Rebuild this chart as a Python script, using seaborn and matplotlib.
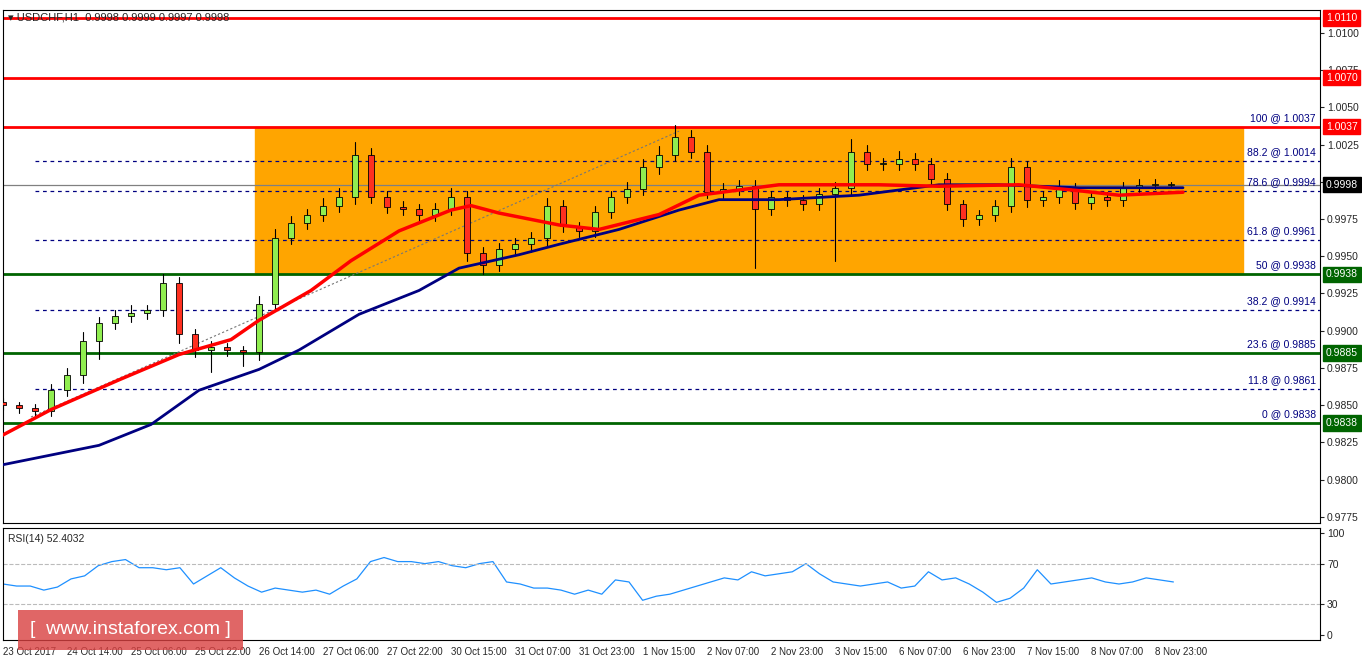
import matplotlib
matplotlib.use("Agg")
import matplotlib.pyplot as plt
import seaborn as sns
import numpy as np
from matplotlib.patches import Rectangle, FancyBboxPatch

sns.set_style("white")
plt.rcParams['font.family'] = ['Liberation Sans', 'DejaVu Sans']

closes = [0.9850,0.9848,0.9846,0.9860,0.9870,0.9893,0.9905,0.9910,0.9912,0.9914,0.9932,0.9898,0.9887,0.9889,0.9887,0.9886,
          0.9918,0.9962,0.9972,0.9978,0.9984,0.9990,1.0018,0.9990,0.9983,0.9982,0.9978,0.9982,0.9990,0.9952,0.9944,0.9955,
          0.9958,0.9962,0.9984,0.9970,0.9967,0.9980,0.9990,0.9995,1.0010,1.0018,1.0030,1.0020,0.9993,0.9995,0.9997,0.9982,
          0.9990,0.9988,0.9985,0.9992,0.9996,1.0020,1.0012,1.0012,1.0015,1.0012,1.0002,0.9985,0.9975,0.9978,0.9984,1.0010,
          0.9988,0.9990,0.9996,0.9986,0.9990,0.9988,0.9996,0.9998,0.9998,0.9998]
wick_up = [3,2,3,4,5,6,4,4,5,3,6,4,3,4,3,3,5,6,5,4,5,6,9,5,4,4,3,4,6,4,4,4,4,4,5,4,3,4,4,5,5,6,8,5,5,4,4,4,
           4,3,3,4,4,9,5,4,6,4,4,4,3,3,4,6,4,4,5,3,3,3,4,4,4,2]
wick_dn = [3,3,4,3,4,5,12,4,4,4,4,6,5,15,4,10,6,4,4,4,4,4,5,4,4,4,4,4,4,5,6,4,4,5,5,4,4,4,4,4,4,5,4,4,4,4,4,40,
           4,4,4,4,45,5,4,4,4,4,4,4,5,4,4,4,5,4,4,4,4,4,4,3,3,2]
bar_hours = 4
fast_ma_x = [0,12,29,44,57,64,77,87,99,112,117,124,139,149,164,174,194,219,234,254,269,279,295]
fast_ma = [0.9830,0.9847,0.9867,0.9884,0.9894,0.9907,0.9927,0.9947,0.9967,0.9981,0.9984,0.9979,0.9971,0.9968,0.9978,0.9991,
           0.9998,0.9998,0.9997,0.9998,0.9994,0.9991,0.9993]
slow_ma_x = [0,24,37,49,64,74,89,104,114,129,139,154,169,179,194,214,234,249,269,295]
slow_ma = [0.9810,0.9823,0.9837,0.9860,0.9874,0.9887,0.9911,0.9927,0.9942,0.9951,0.9958,0.9968,0.9981,0.9988,0.9988,
           0.9991,0.9998,0.9998,0.9996,0.9996]

rsi = [50,48,48,44,47,55,58,68,72,74,66,66,64,66,50,58,66,56,48,42,46,44,42,44,40,48,55,72,76,72,72,70,72,68,66,70,
       72,52,50,46,46,44,40,44,40,54,52,34,38,40,44,48,52,56,54,62,58,60,62,70,60,52,50,48,50,52,46,48,62,54,56,50,42,
       32,36,46,64,50,52,54,56,52,50,52,56,54,52]

date_labels = ["23 Oct 2017","24 Oct 14:00","25 Oct 06:00","25 Oct 22:00","26 Oct 14:00","27 Oct 06:00","27 Oct 22:00",
               "30 Oct 15:00","31 Oct 07:00","31 Oct 23:00","1 Nov 15:00","2 Nov 07:00","2 Nov 23:00","3 Nov 15:00",
               "6 Nov 07:00","6 Nov 23:00","7 Nov 15:00","8 Nov 07:00","8 Nov 23:00"]
fib_pct = ["100","88.2","78.6","61.8","50","38.2","23.6","11.8","0"]
fib_val = [1.0037,1.0014,0.9994,0.9961,0.9938,0.9914,0.9885,0.9861,0.9838]
red_levels = [1.0110,1.0070,1.0037]
green_levels = [0.9938,0.9885,0.9838]
current = 0.9998

W, H = 1362, 661
fig = plt.figure(figsize=(W/100, H/100), dpi=100)
def ax_rect(x0, y0, x1, y1):
    return [x0/W, 1-y1/H, (x1-x0)/W, (y1-y0)/H]
ax = fig.add_axes(ax_rect(3, 10, 1320, 523))
axr = fig.add_axes(ax_rect(3, 528, 1320, 640))

px_per_h = 4.0
xmax = (1320-3)/px_per_h
ymax = 1.0110 + 8/14890
ymin = 1.0110 - 505/14890
ax.set_xlim(0, xmax); ax.set_ylim(ymin, ymax)

ax.add_patch(Rectangle((63, 0.9938), 247, 1.0037-0.9938, color='#FFA500', zorder=0))
for p, v in zip(fib_pct, fib_val):
    if v not in (1.0037, 0.9938, 0.9885, 0.9838):
        ax.plot([8, xmax], [v, v], ls=(0, (3, 3)), color='#000080', lw=0.9, zorder=1)
    ax.text(xmax-1, v+0.00025, f"{p} @ {v:.4f}", ha='right', va='bottom', fontsize=7.5, color='#000080', zorder=5)
for v in red_levels:
    ax.axhline(v, color='red', lw=2, zorder=2)
for v in green_levels:
    ax.axhline(v, color='#006400', lw=2, zorder=2)
ax.axhline(current, color='grey', lw=0.9, zorder=2)
ax.plot([7, 169], [0.9842, 1.0034], ls=(0, (2, 2)), color='#777777', lw=0.8, zorder=2)

prev = closes[0] + 0.0002
for i, c in enumerate(closes):
    x = i*bar_hours
    o = prev
    hi = max(o, c) + wick_up[i]*0.0001
    lo = min(o, c) - wick_dn[i]*0.0001
    ax.plot([x, x], [lo, hi], color='black', lw=0.8, zorder=3)
    col = '#90EE50' if c >= o else '#FF3020'
    ax.add_patch(Rectangle((x-0.8, min(o, c)), 1.6, max(abs(c-o), 0.00005), facecolor=col, edgecolor='black', lw=0.6, zorder=4))
    prev = c

sns.lineplot(x=fast_ma_x, y=fast_ma, ax=ax, color='red', lw=2.5, zorder=6)
sns.lineplot(x=slow_ma_x, y=slow_ma, ax=ax, color='#000080', lw=2, zorder=5)

ax.yaxis.tick_right()
ticks = np.arange(0.9775, 1.0101, 0.0025)
ax.set_yticks(ticks)
ax.set_yticklabels([f"{t:.4f}" for t in ticks], fontsize=7.5)
ax.tick_params(axis='y', length=3, pad=2)
ax.set_xticks([])
def box(v, fc, tc='white'):
    ax.text(xmax+1.5, v, f"{v:.4f}", transform=ax.transData, fontsize=7.5, color=tc, va='center', ha='left',
            bbox=dict(boxstyle='square,pad=0.25', fc=fc, ec=fc), zorder=10, clip_on=False)
for v in red_levels: box(v, 'red')
for v in green_levels: box(v, '#006400')
box(current, 'black')
ax.text(0.004, 0.995, "▾ USDCHF,H1  0.9998 0.9999 0.9997 0.9998", transform=ax.transAxes, fontsize=8, va='top')

rx = np.arange(len(rsi)) * (296/len(rsi))
axr.set_xlim(0, xmax); axr.set_ylim(-5, 105)
sns.lineplot(x=rx, y=rsi, ax=axr, color='#1E90FF', lw=0.9)
for lv in (30, 70):
    axr.axhline(lv, color='#bbbbbb', ls='--', lw=0.8)
axr.yaxis.tick_right()
axr.set_yticks([0, 30, 70, 100]); axr.set_yticklabels(["0","30","70","100"], fontsize=7.5)
axr.tick_params(axis='y', length=3, pad=2)
axr.text(0.004, 0.95, "RSI(14) 52.4032", transform=axr.transAxes, fontsize=7.5, va='top')
axr.set_xticks([i*16 for i in range(len(date_labels))])
axr.set_xticklabels(date_labels, fontsize=7, ha='left')
axr.tick_params(axis='x', length=3, pad=2)
for a in (ax, axr):
    for s in a.spines.values():
        s.set_color('black'); s.set_linewidth(0.8)

fig.patches.append(FancyBboxPatch((18/W, 1-650/H), 225/W, 40/H, boxstyle='square,pad=0', transform=fig.transFigure,
                                  fc='#D94040', ec='none', alpha=0.8, zorder=20))
fig.text(130/W, 1-630/H, "[  www.instaforex.com ]", fontsize=14, color='white', ha='center', va='center', zorder=21)

fig.savefig("out.png", dpi=100)
